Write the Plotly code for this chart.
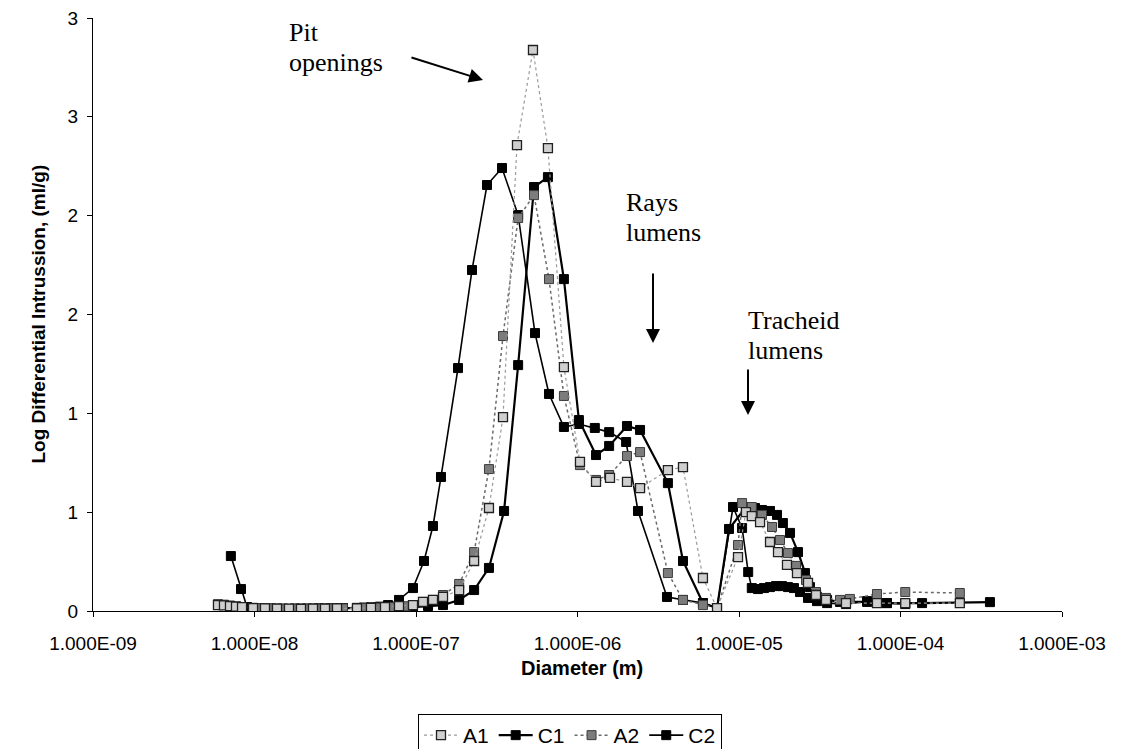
import plotly.graph_objects as go

# Mercury intrusion porosimetry: log differential intrusion vs pore diameter
d_A1 = [5.94e-9, 6.47e-9, 7.05e-9, 7.68e-9, 8.37e-9, 9.79e-9, 1.161e-8, 1.378e-8, 1.635e-8,
        1.940e-8, 2.302e-8, 2.732e-8, 3.242e-8, 4.311e-8, 5.264e-8, 6.427e-8, 7.846e-8,
        9.58e-8, 1.105e-7, 1.274e-7, 1.47e-7, 1.85e-7, 2.29e-7, 2.83e-7, 3.457e-7, 4.220e-7,
        5.30e-7, 6.56e-7, 8.24e-7, 1.036e-6, 1.302e-6, 1.589e-6, 2.025e-6, 2.44e-6, 3.63e-6,
        4.50e-6, 5.98e-6, 7.31e-6, 9.86e-6, 1.104e-5, 1.20e-5, 1.35e-5, 1.556e-5, 1.744e-5,
        1.982e-5, 2.286e-5, 2.675e-5, 2.998e-5, 3.457e-5, 4.597e-5, 7.15e-5, 1.07e-4, 2.33e-4]
v_A1 = [0.030, 0.028, 0.025, 0.022, 0.020, 0.015, 0.013, 0.012, 0.012,
        0.011, 0.012, 0.012, 0.013, 0.014, 0.016, 0.020, 0.025,
        0.030, 0.046, 0.056, 0.071, 0.106, 0.253, 0.521, 0.981, 2.357,
        2.838, 2.342, 1.234, 0.754, 0.653, 0.673, 0.653, 0.622, 0.713,
        0.728, 0.167, 0.015, 0.273, 0.500, 0.480, 0.450, 0.349, 0.298,
        0.233, 0.192, 0.142, 0.081, 0.056, 0.040, 0.040, 0.040, 0.040]

d_C1 = [8.99e-9, 9.79e-9, 1.066e-8, 1.161e-8, 1.265e-8, 1.378e-8, 1.501e-8, 1.635e-8,
        1.781e-8, 1.940e-8, 2.114e-8, 2.302e-8, 2.508e-8, 2.732e-8, 2.976e-8, 3.242e-8,
        3.532e-8, 4.311e-8, 4.764e-8, 5.264e-8, 5.815e-8, 6.427e-8, 7.102e-8, 7.846e-8,
        9.58e-8, 1.187e-7, 1.47e-7, 1.85e-7, 2.29e-7, 2.83e-7, 3.51e-7, 4.29e-7, 5.38e-7,
        6.56e-7, 8.24e-7, 1.02e-6, 1.302e-6, 1.57e-6, 2.025e-6, 2.44e-6, 3.63e-6, 4.50e-6,
        5.98e-6, 7.31e-6, 8.67e-6, 1.104e-5, 1.256e-5, 1.388e-5, 1.556e-5, 1.72e-5, 1.87e-5,
        2.07e-5, 2.32e-5, 2.56e-5, 2.75e-5, 3.04e-5, 3.51e-5, 4.22e-5, 6.21e-5, 8.24e-5,
        1.36e-4, 3.58e-4]
v_C1 = [0.016, 0.014, 0.013, 0.012, 0.012, 0.011, 0.011, 0.010,
        0.011, 0.011, 0.012, 0.011, 0.012, 0.012, 0.013, 0.013,
        0.014, 0.015, 0.016, 0.017, 0.018, 0.019, 0.020, 0.020,
        0.020, 0.025, 0.030, 0.056, 0.106, 0.218, 0.506, 1.244, 2.145,
        2.195, 1.679, 0.966, 0.789, 0.835, 0.936, 0.916, 0.647, 0.253,
        0.040, 0.015, 0.415, 0.526, 0.521, 0.511, 0.506, 0.486, 0.445,
        0.395, 0.298, 0.192, 0.121, 0.071, 0.056, 0.046, 0.046, 0.040,
        0.040, 0.045]

d_A2 = [5.94e-9, 6.47e-9, 7.05e-9, 7.68e-9, 8.37e-9, 1.066e-8, 1.265e-8, 1.501e-8, 1.781e-8,
        2.114e-8, 2.508e-8, 2.976e-8, 3.532e-8, 4.764e-8, 5.815e-8, 7.102e-8, 8.67e-8,
        9.58e-8, 1.105e-7, 1.274e-7, 1.47e-7, 1.85e-7, 2.29e-7, 2.83e-7, 3.457e-7, 4.29e-7,
        5.38e-7, 6.66e-7, 8.24e-7, 1.036e-6, 1.302e-6, 1.57e-6, 2.025e-6, 2.44e-6, 3.63e-6,
        4.50e-6, 5.98e-6, 7.31e-6, 9.86e-6, 1.045e-5, 1.20e-5, 1.388e-5, 1.601e-5, 1.795e-5,
        2.011e-5, 2.255e-5, 2.600e-5, 2.998e-5, 3.457e-5, 4.22e-5, 4.86e-5, 7.15e-5,
        1.07e-4, 2.33e-4]
v_A2 = [0.035, 0.032, 0.028, 0.024, 0.020, 0.014, 0.013, 0.012, 0.012,
        0.012, 0.012, 0.013, 0.013, 0.015, 0.017, 0.020, 0.024,
        0.030, 0.046, 0.056, 0.081, 0.137, 0.298, 0.718, 1.391, 1.988,
        2.104, 1.679, 1.088, 0.738, 0.663, 0.688, 0.784, 0.804, 0.192,
        0.056, 0.030, 0.015, 0.334, 0.546, 0.526, 0.486, 0.425, 0.359,
        0.293, 0.228, 0.157, 0.096, 0.066, 0.056, 0.061, 0.086,
        0.096, 0.091]

d_C2 = [7.14e-9, 8.25e-9, 8.99e-9, 9.79e-9, 1.066e-8, 1.161e-8, 1.265e-8, 1.378e-8, 1.501e-8,
        1.635e-8, 1.781e-8, 1.940e-8, 2.114e-8, 2.302e-8, 2.508e-8, 2.732e-8, 2.976e-8,
        3.242e-8, 3.532e-8, 4.311e-8, 4.764e-8, 5.264e-8, 5.98e-8, 6.71e-8, 7.85e-8,
        9.58e-8, 1.121e-7, 1.274e-7, 1.428e-7, 1.820e-7, 2.222e-7, 2.752e-7, 3.408e-7,
        4.29e-7, 5.455e-7, 6.66e-7, 8.24e-7, 1.02e-6, 1.28e-6, 1.57e-6, 2.00e-6, 2.369e-6,
        3.582e-6, 4.50e-6, 5.98e-6, 7.31e-6, 9.18e-6, 1.045e-5, 1.14e-5, 1.20e-5, 1.311e-5,
        1.428e-5, 1.556e-5, 1.695e-5, 1.846e-5, 2.011e-5, 2.191e-5, 2.386e-5, 2.675e-5,
        3.04e-5, 3.51e-5, 4.597e-5, 6.21e-5, 8.24e-5, 1.07e-4]
v_C2 = [0.278, 0.111, 0.020, 0.016, 0.014, 0.013, 0.012, 0.012, 0.011,
        0.011, 0.012, 0.012, 0.011, 0.012, 0.013, 0.012, 0.013,
        0.014, 0.015, 0.016, 0.017, 0.018, 0.022, 0.030, 0.056,
        0.116, 0.253, 0.430, 0.678, 1.229, 1.725, 2.155, 2.241,
        2.003, 1.406, 1.098, 0.931, 0.946, 0.926, 0.905, 0.855, 0.506,
        0.071, 0.056, 0.040, 0.015, 0.526, 0.420, 0.197, 0.116, 0.111,
        0.116, 0.121, 0.126, 0.126, 0.121, 0.116, 0.096, 0.066,
        0.050, 0.040, 0.035, 0.050, 0.040, 0.035]

x_tick_vals = [1e-9, 1e-8, 1e-7, 1e-6, 1e-5, 1e-4, 1e-3]
x_tick_text = ["1.000E-09", "1.000E-08", "1.000E-07", "1.000E-06",
               "1.000E-05", "1.000E-04", "1.000E-03"]
y_tick_vals = [0, 0.5, 1.0, 1.5, 2.0, 2.5, 3.0]
y_tick_text = ["0", "1", "1", "2", "2", "3", "3"]

W, H = 1122, 749
L, R, T, B = 93, 60, 18, 138
PW, PH = W - L - R, H - T - B


def px(x):
    return (x - L) / PW


def py(y):
    return (H - B - y) / PH


fig = go.Figure()

# drawn back-to-front; legend order set by legendrank
fig.add_trace(go.Scatter(
    x=d_C2, y=v_C2, name="C2", mode="lines+markers", legendrank=4,
    line=dict(color="black", width=1.6),
    marker=dict(symbol="square", size=9, color="black", line=dict(color="black", width=1))))
fig.add_trace(go.Scatter(
    x=d_C1, y=v_C1, name="C1", mode="lines+markers", legendrank=2,
    line=dict(color="black", width=2.2),
    marker=dict(symbol="square", size=9, color="black", line=dict(color="black", width=1))))
fig.add_trace(go.Scatter(
    x=d_A2, y=v_A2, name="A2", mode="lines+markers", legendrank=3,
    line=dict(color="#6a6a6a", width=1.5, dash="dot"),
    marker=dict(symbol="square", size=9, color="#7c7c7c", line=dict(color="#3c3c3c", width=1))))
fig.add_trace(go.Scatter(
    x=d_A1, y=v_A1, name="A1", mode="lines+markers", legendrank=1,
    line=dict(color="#9a9a9a", width=1.2, dash="dot"),
    marker=dict(symbol="square", size=9, color="#cfcfcf", line=dict(color="#202020", width=1.3))))

serif = dict(family="Liberation Serif, Times New Roman, serif", size=26, color="black")
labels = [("Pit", 287, 32), ("openings", 287, 62),
          ("Rays", 624, 202), ("lumens", 624, 233),
          ("Tracheid", 746, 321), ("lumens", 746, 351)]
annotations = [dict(text=t, xref="paper", yref="paper", x=px(x), y=py(y),
                    xanchor="left", yanchor="middle", showarrow=False, font=serif)
               for t, x, y in labels]

# arrows: (head x, head y, tail dx, tail dy) in pixels
arrows = [(483, 80, -73, -23), (653, 343, 0, -71), (748, 415, 0, -47)]
for hx, hy, dx, dy in arrows:
    annotations.append(dict(text="", xref="paper", yref="paper", x=px(hx), y=py(hy),
                            ax=dx, ay=dy, axref="pixel", ayref="pixel",
                            showarrow=True, arrowhead=2, arrowsize=1.4,
                            arrowwidth=2, arrowcolor="black"))

annotations.append(dict(text="<b>Diameter (m)</b>", xref="paper", yref="paper",
                        x=px(582), y=py(668), xanchor="center", yanchor="middle",
                        showarrow=False,
                        font=dict(family="Liberation Sans, Arial", size=20, color="black")))
annotations.append(dict(text="<b>Log Differential Intrussion, (ml/g)</b>", xref="paper",
                        yref="paper", x=px(38), y=0.5, xanchor="center", yanchor="middle",
                        textangle=-90, showarrow=False,
                        font=dict(family="Liberation Sans, Arial", size=19, color="black")))

fig.update_layout(
    width=W, height=H,
    margin=dict(l=L, r=R, t=T, b=B, autoexpand=False),
    paper_bgcolor="white", plot_bgcolor="white",
    font=dict(family="Liberation Sans, Arial", size=19, color="black"),
    showlegend=True,
    legend=dict(orientation="h", x=px(570), y=py(714), xanchor="center", yanchor="top",
                bordercolor="black", borderwidth=1, font=dict(size=21),
                itemwidth=34, tracegroupgap=0),
    annotations=annotations,
)
fig.update_xaxes(type="log", range=[-9, -3], tickvals=x_tick_vals, ticktext=x_tick_text,
                 showline=True, linecolor="black", linewidth=1, ticks="outside",
                 ticklen=5, tickcolor="black", showgrid=False, zeroline=False,
                 ticklabelstandoff=10, automargin=False)
fig.update_yaxes(range=[0, 3], tickvals=y_tick_vals, ticktext=y_tick_text,
                 showline=True, linecolor="black", linewidth=1, ticks="outside",
                 ticklen=5, tickcolor="black", showgrid=False, zeroline=False,
                 ticklabelstandoff=5, automargin=False)

fig.write_html("out.html")
